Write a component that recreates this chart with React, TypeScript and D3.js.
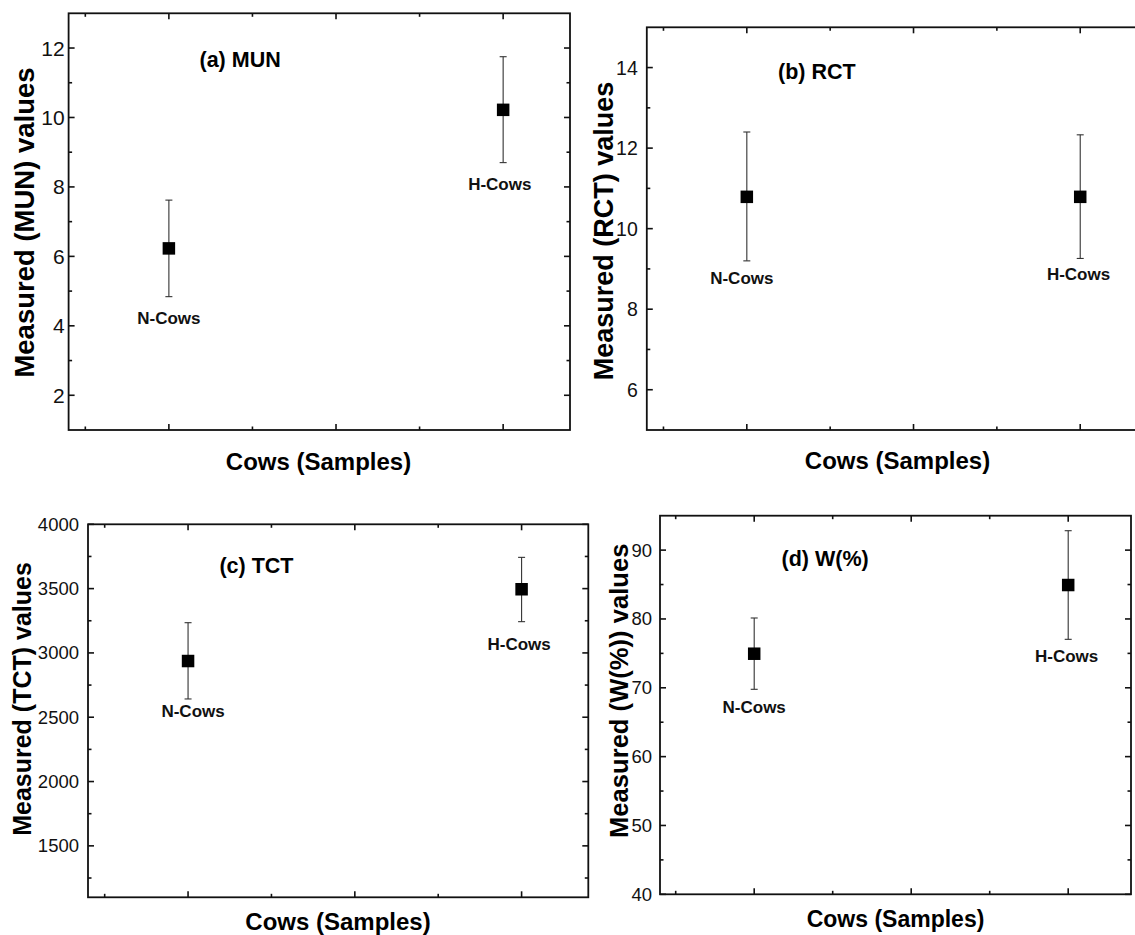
import React from "react";
import * as d3 from "d3";

// ---------- DATA ----------
const categories = ["N-Cows", "H-Cows"];
const categoryPos = [1, 3];

const munMean = [6.23, 10.22];
const munLow = [4.84, 8.7];
const munHigh = [7.62, 11.75];

const rctMean = [10.79, 10.79];
const rctLow = [9.2, 9.26];
const rctHigh = [12.4, 12.33];

const tctMean = [2937, 3495];
const tctLow = [2642, 3243];
const tctHigh = [3235, 3743];

const wMean = [74.95, 84.93];
const wLow = [69.78, 77.04];
const wHigh = [80.14, 92.82];

const xMajorTicks = [1, 2, 3];
const xMinorTicks = [0.5, 1.5, 2.5];

const munTicks = [2, 4, 6, 8, 10, 12];
const munMinor = [3, 5, 7, 9, 11];
const rctTicks = [6, 8, 10, 12, 14];
const rctMinor = [7, 9, 11, 13];
const tctTicks = [1500, 2000, 2500, 3000, 3500, 4000];
const tctMinor = [1250, 1750, 2250, 2750, 3250, 3750];
const wTicks = [40, 50, 60, 70, 80, 90];
const wMinor = [45, 55, 65, 75, 85];

const panelTitles = ["(a) MUN", "(b) RCT", "(c) TCT", "(d) W(%)"];
const yTitles = [
  "Measured (MUN) values",
  "Measured (RCT) values",
  "Measured (TCT) values",
  "Measured (W(%)) values",
];
const xTitle = "Cows (Samples)";

// ---------- LAYOUT ----------
const FONT = "'Liberation Sans', Arial, Helvetica, sans-serif";

const panels = [
  {
    rect: { l: 68.6, r: 570, t: 13.3, b: 430 },
    yDomain: [1, 13], ticks: munTicks, minor: munMinor,
    mean: munMean, low: munLow, high: munHigh,
    title: panelTitles[0], titlePos: [1.426, 11.66],
    catLabelPos: [[1.0, 4.22], [2.98, 8.08]],
    yTitle: yTitles[0], yTitleX: 34, yTitleY: 222.5, yTitleSize: 27.5,
    xTitleX: 318.5, xTitleY: 461.7, xTitleSize: 24,
    tickSize: 21, tickGap: 4,
  },
  {
    rect: { l: 646.8, r: 1146.9, t: 27.3, b: 430 },
    yDomain: [5, 15], ticks: rctTicks, minor: rctMinor,
    mean: rctMean, low: rctLow, high: rctHigh,
    title: panelTitles[1], titlePos: [1.42, 13.9],
    catLabelPos: [[0.97, 8.77], [2.99, 8.87]],
    yTitle: yTitles[1], yTitleX: 613, yTitleY: 231, yTitleSize: 27,
    xTitleX: 897.5, xTitleY: 460.7, xTitleSize: 24,
    tickSize: 19.5, tickGap: 9,
  },
  {
    rect: { l: 88, r: 588.3, t: 524.3, b: 897.3 },
    yDomain: [1100, 4000], ticks: tctTicks, minor: tctMinor,
    mean: tctMean, low: tctLow, high: tctHigh,
    title: panelTitles[2], titlePos: [1.41, 3676],
    catLabelPos: [[1.03, 2548], [2.985, 3067]],
    yTitle: yTitles[2], yTitleX: 31, yTitleY: 699, yTitleSize: 25,
    xTitleX: 338, xTitleY: 921.5, xTitleSize: 24,
    tickSize: 18.5, tickGap: 9,
  },
  {
    rect: { l: 660, r: 1131, t: 515.7, b: 894.3 },
    yDomain: [40, 95], ticks: wTicks, minor: wMinor,
    mean: wMean, low: wLow, high: wHigh,
    title: panelTitles[3], titlePos: [1.452, 88.66],
    catLabelPos: [[1.0, 67.1], [2.99, 74.5]],
    yTitle: yTitles[3], yTitleX: 628, yTitleY: 690.8, yTitleSize: 25.6,
    xTitleX: 895.5, xTitleY: 919.3, xTitleSize: 23,
    tickSize: 18.5, tickGap: 8,
  },
];

const MAJOR = 6;
const MINOR = 3.5;

function Panel({ p }: { p: any }) {
  const { l, r, t, b } = p.rect;
  const x = d3.scaleLinear().domain([0.4, 3.4]).range([l, r]);
  const y = d3.scaleLinear().domain(p.yDomain).range([b, t]);
  const axisColor = "#111";
  const sw = 1.6;
  const els: any[] = [];

  xMajorTicks.forEach((v, i) => {
    els.push(<line key={`xb${i}`} x1={x(v)} x2={x(v)} y1={b} y2={b - MAJOR} stroke={axisColor} strokeWidth={sw} />);
    els.push(<line key={`xt${i}`} x1={x(v)} x2={x(v)} y1={t} y2={t + MAJOR} stroke={axisColor} strokeWidth={sw} />);
  });
  xMinorTicks.forEach((v, i) => {
    els.push(<line key={`xbm${i}`} x1={x(v)} x2={x(v)} y1={b} y2={b - MINOR} stroke={axisColor} strokeWidth={sw} />);
    els.push(<line key={`xtm${i}`} x1={x(v)} x2={x(v)} y1={t} y2={t + MINOR} stroke={axisColor} strokeWidth={sw} />);
  });
  p.ticks.forEach((v: number, i: number) => {
    els.push(<line key={`yl${i}`} x1={l} x2={l + MAJOR} y1={y(v)} y2={y(v)} stroke={axisColor} strokeWidth={sw} />);
    els.push(<line key={`yr${i}`} x1={r} x2={r - MAJOR} y1={y(v)} y2={y(v)} stroke={axisColor} strokeWidth={sw} />);
    els.push(
      <text key={`yt${i}`} x={l - p.tickGap} y={y(v)} textAnchor="end" dominantBaseline="central"
        fontSize={p.tickSize} fontFamily={FONT} fill="#111">{v}</text>
    );
  });
  p.minor.forEach((v: number, i: number) => {
    els.push(<line key={`ylm${i}`} x1={l} x2={l + MINOR} y1={y(v)} y2={y(v)} stroke={axisColor} strokeWidth={sw} />);
    els.push(<line key={`yrm${i}`} x1={r} x2={r - MINOR} y1={y(v)} y2={y(v)} stroke={axisColor} strokeWidth={sw} />);
  });

  categories.forEach((c, i) => {
    const cx = x(categoryPos[i]);
    const yl = y(p.low[i]);
    const yh = y(p.high[i]);
    els.push(<line key={`eb${i}`} x1={cx} x2={cx} y1={yl} y2={yh} stroke="#333" strokeWidth={1.1} />);
    els.push(<line key={`ebl${i}`} x1={cx - 3.5} x2={cx + 3.5} y1={yl} y2={yl} stroke="#333" strokeWidth={1.1} />);
    els.push(<line key={`ebh${i}`} x1={cx - 3.5} x2={cx + 3.5} y1={yh} y2={yh} stroke="#333" strokeWidth={1.1} />);
    const s = 12.5;
    els.push(<rect key={`m${i}`} x={cx - s / 2} y={y(p.mean[i]) - s / 2} width={s} height={s} fill="#000" />);
    const [lx, ly] = p.catLabelPos[i];
    els.push(
      <text key={`cl${i}`} x={x(lx)} y={y(ly)} textAnchor="middle" dominantBaseline="central"
        fontSize={17} fontWeight="bold" fontFamily={FONT} fill="#111">{c}</text>
    );
  });

  els.push(<rect key="frame" x={l} y={t} width={r - l} height={b - t} fill="none" stroke={axisColor} strokeWidth={1.8} />);

  els.push(
    <text key="title" x={x(p.titlePos[0])} y={y(p.titlePos[1])} textAnchor="middle" dominantBaseline="central"
      fontSize={21.5} fontWeight="bold" fontFamily={FONT} fill="#000">{p.title}</text>
  );
  els.push(
    <text key="ytitle" transform={`translate(${p.yTitleX},${p.yTitleY}) rotate(-90)`} textAnchor="middle"
      fontSize={p.yTitleSize} fontWeight="bold" fontFamily={FONT} fill="#000">{p.yTitle}</text>
  );
  els.push(
    <text key="xtitle" x={p.xTitleX} y={p.xTitleY} textAnchor="middle" dominantBaseline="central"
      fontSize={p.xTitleSize} fontWeight="bold" fontFamily={FONT} fill="#000">{xTitle}</text>
  );
  return <g>{els}</g>;
}

export default function App() {
  return (
    <svg width={1135} height={935} style={{ position: "absolute", left: 0, top: 0, background: "#fff" }}>
      <rect x={0} y={0} width={1135} height={935} fill="#fff" />
      {panels.map((p, i) => (
        <Panel key={i} p={p} />
      ))}
    </svg>
  );
}
